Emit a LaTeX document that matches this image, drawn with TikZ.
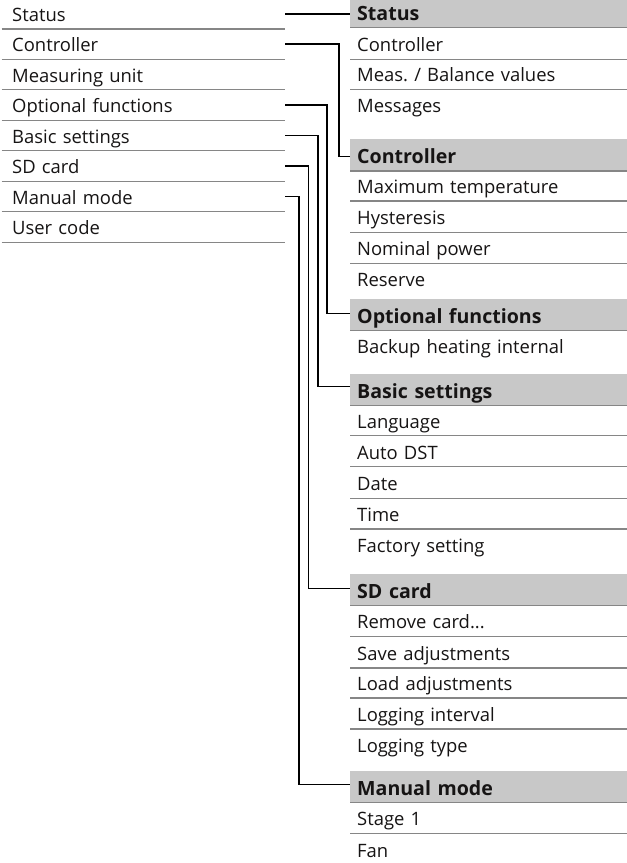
\documentclass[tikz,border=0pt]{standalone}
\usepackage{fontspec}
\setmainfont{Open Sans}
\definecolor{ink}{HTML}{161414}
\definecolor{band}{HTML}{C8C8C8}
\definecolor{rulegrey}{HTML}{868686}
\newlength\wreg
\newlength\wbold
\AtBeginDocument{%
  \settowidth\wreg{\fontsize{10pt}{12pt}\selectfont Optional functions}%
  \settowidth\wbold{\fontsize{10pt}{12pt}\selectfont\bfseries Optional functions}%
  \pgfmathsetmacro\fsreg{10*159/\wreg}%
  \pgfmathsetmacro\fsbold{10*183/\wbold}%
}
\newcommand\regfont{\fontsize{\fsreg pt}{\fsreg pt}\selectfont}
\newcommand\boldfont{\fontsize{\fsbold pt}{\fsbold pt}\selectfont\bfseries}
\begin{document}
\begin{tikzpicture}[x=1pt,y=-1pt,
  lrow/.style={anchor=south west, inner xsep=10.5pt, inner ysep=0pt,
    text width=262.5pt, align=left, text height=22.9pt, text depth=7.5pt,
    font=\regfont, text=ink},
  rrow/.style={anchor=south west, inner xsep=7pt, inner ysep=0pt,
    text width=263pt, align=left, text height=23.1pt, text depth=7.5pt,
    font=\regfont, text=ink},
  hdr/.style={rrow, fill=band, text height=24.5pt, text depth=7pt, font=\boldfont},
  rule/.style={draw=rulegrey, line width=1.1pt},
  conn/.style={draw=black, line width=1.3pt},
  connthick/.style={draw=black, line width=2pt}]
\useasboundingbox (0,0) rectangle (627,863);

% ---- left menu ----
\foreach \i/\t/\n in {0/Status/Lst, 1/Controller/Lct, 2/Measuring unit/Lmu,
  3/Optional functions/Lof, 4/Basic settings/Lbs, 5/SD card/Lsd,
  6/Manual mode/Lmm, 7/User code/Luc}{
  \node[lrow] (\n) at (1.5,{29+30.45*\i}) {\t};
  \draw[rule] (\n.south west) -- (\n.south east);
}

% ---- right column ----
% Status group
\node[hdr] (Hst) at (350,27.5) {Status};
\draw[rule] (Hst.south west) -- (Hst.south east);
\node[rrow] (Rst1) at (350,59.3) {Controller};
\draw[rule] (Rst1.south west) -- (Rst1.south east);
\node[rrow] (Rst2) at (350,89.3) {Meas.\ / Balance values};
\draw[rule] (Rst2.south west) -- (Rst2.south east);
\node[rrow] (Rst3) at (350,119.8) {Messages};

% Controller group
\node[hdr] (Hct) at (350,171) {Controller};
\draw[rule] (Hct.south west) -- (Hct.south east);
\node[rrow] (Rct1) at (350,201) {Maximum temperature};
\draw[rule] (Rct1.south west) -- (Rct1.south east);
\node[rrow] (Rct2) at (350,232.3) {Hysteresis};
\draw[rule] (Rct2.south west) -- (Rct2.south east);
\node[rrow] (Rct3) at (350,263.3) {Nominal power};
\draw[rule] (Rct3.south west) -- (Rct3.south east);
\node[rrow] (Rct4) at (350,294) {Reserve};

% Optional functions group
\node[hdr] (Hof) at (350,330.7) {Optional functions};
\draw[rule] (Hof.south west) -- (Hof.south east);
\node[rrow] (Rof1) at (350,361.5) {Backup heating internal};

% Basic settings group
\node[hdr] (Hbs) at (350,405.7) {Basic settings};
\draw[rule] (Hbs.south west) -- (Hbs.south east);
\node[rrow] (Rbs1) at (350,435.7) {Language};
\draw[rule] (Rbs1.south west) -- (Rbs1.south east);
\node[rrow] (Rbs2) at (350,466.7) {Auto DST};
\draw[rule] (Rbs2.south west) -- (Rbs2.south east);
\node[rrow] (Rbs3) at (350,498.3) {Date};
\draw[rule] (Rbs3.south west) -- (Rbs3.south east);
\node[rrow] (Rbs4) at (350,529) {Time};
\draw[rule] (Rbs4.south west) -- (Rbs4.south east);
\node[rrow] (Rbs5) at (350,560) {Factory setting};

% SD card group
\node[hdr] (Hsd) at (350,605.7) {SD card};
\draw[rule] (Hsd.south west) -- (Hsd.south east);
\node[rrow] (Rsd1) at (350,636.5) {Remove card...};
\draw[rule] (Rsd1.south west) -- (Rsd1.south east);
\node[rrow] (Rsd2) at (350,668) {Save adjustments};
\draw[rule] (Rsd2.south west) -- (Rsd2.south east);
\node[rrow] (Rsd3) at (350,698) {Load adjustments};
\draw[rule] (Rsd3.south west) -- (Rsd3.south east);
\node[rrow] (Rsd4) at (350,729) {Logging interval};
\draw[rule] (Rsd4.south west) -- (Rsd4.south east);
\node[rrow] (Rsd5) at (350,760) {Logging type};

% Manual mode group
\node[hdr] (Hmm) at (350,802.7) {Manual mode};
\draw[rule] (Hmm.south west) -- (Hmm.south east);
\node[rrow] (Rmm1) at (350,833.3) {Stage 1};
\draw[rule] (Rmm1.south west) -- (Rmm1.south east);
\node[rrow] (Rmm2) at (350,865.5) {Fan};

% ---- connectors ----
\draw[connthick] (Lst.east) -- (Lst.east -| Hst.west);
\draw[conn] (Lct.east) -| ([xshift=-11pt,yshift=-1.5pt]Hct.west) -- ([yshift=-1.5pt]Hct.west);
\draw[conn] (Lof.east) -| ([xshift=-23pt,yshift=1pt]Hof.west) -- ([yshift=1pt]Hof.west);
\draw[conn] (Lbs.east) -| ([xshift=-32pt,yshift=3pt]Hbs.west) -- ([yshift=3pt]Hbs.west);
\draw[conn] (Lsd.east) -| ([xshift=-41.5pt,yshift=1pt]Hsd.west) -- ([yshift=1pt]Hsd.west);
\draw[conn] (Lmm.east) -| ([xshift=-51pt,yshift=2pt]Hmm.west) -- ([yshift=2pt]Hmm.west);
\end{tikzpicture}
\end{document}
